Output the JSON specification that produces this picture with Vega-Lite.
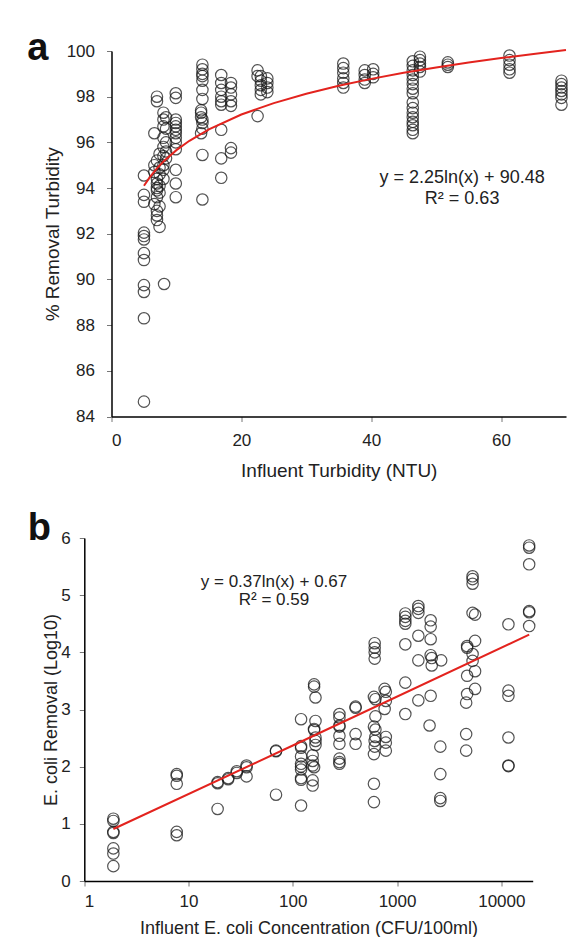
{
  "$schema": "https://vega.github.io/schema/vega-lite/v6.json",
  "padding": {"left": 26.5, "top": 30, "right": 0, "bottom": 0},
  "autosize": {"type": "pad"},
  "config": {
    "font": "Liberation Sans",
    "view": {"stroke": null},
    "axis": {
      "grid": false,
      "domainColor": "#000",
      "domainWidth": 1.5,
      "tickColor": "#777",
      "tickSize": 5,
      "labelFont": "Liberation Sans",
      "labelFontSize": 17,
      "labelColor": "#222",
      "titleFont": "Liberation Sans",
      "titleFontWeight": "normal",
      "titleColor": "#222"
    },
    "title": {"font": "Liberation Sans", "fontSize": 38, "fontWeight": "bold", "color": "#111"}
  },
  "concat": [
    {
      "width": 454.5,
      "height": 365.5,
      "title": {"text": "a", "orient": "top", "anchor": "start", "frame": "bounds", "offset": -39, "baseline": "alphabetic", "dx": -16, "dy": 17},
      "layer": [
        {
          "data": {"values": [
            {"x": 5.0, "y": 94.55}, {"x": 5.0, "y": 93.7}, {"x": 5.0, "y": 93.4}, {"x": 5.0, "y": 92.05}, {"x": 5.0, "y": 91.9}, {"x": 5.0, "y": 91.75}, {"x": 5.0, "y": 91.15}, {"x": 5.0, "y": 90.85}, {"x": 5.0, "y": 89.75}, {"x": 5.0, "y": 89.45}, {"x": 5.0, "y": 88.3}, {"x": 5.0, "y": 84.65},
            {"x": 6.6, "y": 96.4}, {"x": 6.6, "y": 95.0}, {"x": 6.6, "y": 94.7}, {"x": 6.6, "y": 93.3},
            {"x": 7.0, "y": 98.0}, {"x": 7.0, "y": 97.8}, {"x": 7.0, "y": 95.2}, {"x": 7.0, "y": 94.4}, {"x": 7.0, "y": 94.2}, {"x": 7.0, "y": 94.0}, {"x": 7.0, "y": 93.9}, {"x": 7.0, "y": 93.6}, {"x": 7.0, "y": 93.0}, {"x": 7.0, "y": 92.8}, {"x": 7.0, "y": 92.6},
            {"x": 7.4, "y": 95.5}, {"x": 7.4, "y": 94.9}, {"x": 7.4, "y": 94.6}, {"x": 7.4, "y": 94.1}, {"x": 7.4, "y": 93.8}, {"x": 7.4, "y": 93.2}, {"x": 7.4, "y": 92.3},
            {"x": 8.0, "y": 97.3}, {"x": 8.0, "y": 97.0}, {"x": 8.0, "y": 96.7}, {"x": 8.0, "y": 96.2}, {"x": 8.0, "y": 95.8}, {"x": 8.0, "y": 95.4}, {"x": 8.0, "y": 95.0}, {"x": 8.0, "y": 94.8}, {"x": 8.0, "y": 94.4}, {"x": 8.1, "y": 89.8},
            {"x": 8.4, "y": 97.1}, {"x": 8.4, "y": 96.6}, {"x": 8.4, "y": 96.0}, {"x": 8.4, "y": 95.6}, {"x": 8.4, "y": 95.3},
            {"x": 9.9, "y": 98.15}, {"x": 9.9, "y": 97.95}, {"x": 9.9, "y": 97.0}, {"x": 9.9, "y": 96.85}, {"x": 9.9, "y": 96.7}, {"x": 9.9, "y": 96.55}, {"x": 9.9, "y": 96.4}, {"x": 9.9, "y": 96.2}, {"x": 9.9, "y": 96.0}, {"x": 9.9, "y": 95.7}, {"x": 9.9, "y": 94.8}, {"x": 9.9, "y": 94.2}, {"x": 9.9, "y": 93.6},
            {"x": 14.0, "y": 99.4}, {"x": 14.0, "y": 99.2}, {"x": 14.0, "y": 99.0}, {"x": 14.0, "y": 98.9}, {"x": 14.0, "y": 98.7}, {"x": 14.0, "y": 98.3}, {"x": 14.0, "y": 97.9}, {"x": 13.8, "y": 97.4}, {"x": 13.8, "y": 97.3}, {"x": 13.8, "y": 97.1}, {"x": 14.0, "y": 97.0}, {"x": 14.0, "y": 96.85}, {"x": 14.0, "y": 96.6}, {"x": 13.8, "y": 96.4}, {"x": 14.0, "y": 95.45}, {"x": 14.0, "y": 93.5},
            {"x": 16.9, "y": 98.95}, {"x": 16.9, "y": 98.6}, {"x": 16.9, "y": 98.3}, {"x": 16.9, "y": 98.0}, {"x": 16.9, "y": 97.8}, {"x": 16.9, "y": 97.65}, {"x": 16.9, "y": 96.55}, {"x": 16.9, "y": 95.3}, {"x": 16.9, "y": 94.45},
            {"x": 18.4, "y": 98.6}, {"x": 18.4, "y": 98.4}, {"x": 18.4, "y": 98.1}, {"x": 18.4, "y": 97.8}, {"x": 18.4, "y": 97.6}, {"x": 18.4, "y": 95.75}, {"x": 18.4, "y": 95.55},
            {"x": 22.5, "y": 99.15}, {"x": 22.5, "y": 98.9}, {"x": 22.5, "y": 97.15},
            {"x": 23.0, "y": 98.9}, {"x": 23.0, "y": 98.7}, {"x": 23.0, "y": 98.5}, {"x": 23.0, "y": 98.3}, {"x": 23.0, "y": 98.1},
            {"x": 24.0, "y": 98.8}, {"x": 24.0, "y": 98.6}, {"x": 24.0, "y": 98.4}, {"x": 24.0, "y": 98.2},
            {"x": 35.7, "y": 99.45}, {"x": 35.7, "y": 99.25}, {"x": 35.7, "y": 99.05}, {"x": 35.7, "y": 98.8}, {"x": 35.7, "y": 98.6}, {"x": 35.7, "y": 98.4},
            {"x": 39.0, "y": 99.15}, {"x": 39.0, "y": 98.95}, {"x": 39.0, "y": 98.75}, {"x": 39.0, "y": 98.6},
            {"x": 40.3, "y": 99.2}, {"x": 40.3, "y": 99.0}, {"x": 40.3, "y": 98.85},
            {"x": 46.4, "y": 99.55}, {"x": 46.4, "y": 99.35}, {"x": 46.4, "y": 99.15}, {"x": 46.4, "y": 98.95}, {"x": 46.4, "y": 98.75}, {"x": 46.4, "y": 98.55}, {"x": 46.4, "y": 98.35}, {"x": 46.4, "y": 98.15}, {"x": 46.4, "y": 97.75}, {"x": 46.4, "y": 97.5}, {"x": 46.4, "y": 97.3}, {"x": 46.4, "y": 97.1}, {"x": 46.4, "y": 96.9}, {"x": 46.4, "y": 96.75}, {"x": 46.4, "y": 96.55}, {"x": 46.4, "y": 96.4},
            {"x": 47.5, "y": 99.75}, {"x": 47.5, "y": 99.6}, {"x": 47.5, "y": 99.45}, {"x": 47.5, "y": 99.3}, {"x": 47.5, "y": 99.1},
            {"x": 51.8, "y": 99.5}, {"x": 51.8, "y": 99.4}, {"x": 51.8, "y": 99.3},
            {"x": 61.3, "y": 99.8}, {"x": 61.3, "y": 99.6}, {"x": 61.3, "y": 99.4}, {"x": 61.3, "y": 99.2}, {"x": 61.3, "y": 99.05},
            {"x": 69.3, "y": 98.7}, {"x": 69.3, "y": 98.55}, {"x": 69.3, "y": 98.4}, {"x": 69.3, "y": 98.25}, {"x": 69.3, "y": 98.1}, {"x": 69.3, "y": 97.95}, {"x": 69.3, "y": 97.65}
          ]},
          "mark": {"type": "point", "filled": false, "stroke": "#1a1a1a", "strokeWidth": 1.2, "opacity": 0.75, "size": 130},
          "encoding": {
            "x": {"field": "x", "type": "quantitative", "scale": {"domain": [0, 70], "nice": false, "zero": false},
                  "axis": {"values": [0, 20, 40, 60], "labelPadding": 11, "titlePadding": 13, "titleFontSize": 19, "title": "Influent Turbidity (NTU)"}},
            "y": {"field": "y", "type": "quantitative", "scale": {"domain": [84, 100], "nice": false, "zero": false},
                  "axis": {"values": [84, 86, 88, 90, 92, 94, 96, 98, 100], "labelPadding": 12, "titlePadding": 4, "titleFontSize": 19, "title": "% Removal Turbidity"}}
          }
        },
        {
          "data": {"values": [
            {"x": 5, "y": 94.10}, {"x": 6, "y": 94.51}, {"x": 7, "y": 94.86}, {"x": 8, "y": 95.16}, {"x": 10, "y": 95.66}, {"x": 12, "y": 96.07}, {"x": 15, "y": 96.57}, {"x": 20, "y": 97.22}, {"x": 25, "y": 97.72}, {"x": 30, "y": 98.13}, {"x": 35, "y": 98.48}, {"x": 40, "y": 98.78}, {"x": 45, "y": 99.05}, {"x": 50, "y": 99.28}, {"x": 55, "y": 99.50}, {"x": 60, "y": 99.69}, {"x": 65, "y": 99.87}, {"x": 70, "y": 100.04}
          ]},
          "mark": {"type": "line", "color": "#e3231e", "strokeWidth": 2, "clip": false},
          "encoding": {
            "x": {"field": "x", "type": "quantitative"},
            "y": {"field": "y", "type": "quantitative"}
          }
        },
        {
          "data": {"values": [{"x": 54.0, "y": 94.42, "label": ["y = 2.25ln(x) + 90.48", "R² = 0.63"]}]},
          "mark": {"type": "text", "fontSize": 18, "lineHeight": 20.5, "align": "center", "baseline": "middle", "color": "#222"},
          "encoding": {
            "x": {"field": "x", "type": "quantitative"},
            "y": {"field": "y", "type": "quantitative"},
            "text": {"field": "label"}
          }
        }
      ]
    },
    {
      "width": 421.2,
      "height": 343,
      "title": {"text": "b", "orient": "top", "anchor": "start", "frame": "bounds", "offset": -37, "baseline": "alphabetic", "dx": -15, "dy": 12},
      "layer": [
        {
          "data": {"values": [
            {"x": 1.9, "y": 1.09}, {"x": 1.9, "y": 1.05}, {"x": 1.9, "y": 0.86}, {"x": 1.9, "y": 0.84}, {"x": 1.9, "y": 0.57}, {"x": 1.9, "y": 0.48}, {"x": 1.9, "y": 0.26},
            {"x": 7.7, "y": 1.87}, {"x": 7.7, "y": 1.84}, {"x": 7.7, "y": 1.70}, {"x": 7.7, "y": 0.86}, {"x": 7.7, "y": 0.80},
            {"x": 19, "y": 1.73}, {"x": 19, "y": 1.71}, {"x": 19, "y": 1.26},
            {"x": 24, "y": 1.80}, {"x": 24, "y": 1.78},
            {"x": 29, "y": 1.92}, {"x": 29, "y": 1.89},
            {"x": 36, "y": 2.02}, {"x": 36, "y": 1.99}, {"x": 36, "y": 1.83},
            {"x": 69, "y": 2.28}, {"x": 69, "y": 2.27}, {"x": 69, "y": 1.51},
            {"x": 120, "y": 2.83}, {"x": 120, "y": 2.36}, {"x": 120, "y": 2.33}, {"x": 120, "y": 2.18}, {"x": 120, "y": 2.05}, {"x": 120, "y": 2.0}, {"x": 120, "y": 1.95}, {"x": 120, "y": 1.80}, {"x": 120, "y": 1.77}, {"x": 120, "y": 1.32},
            {"x": 160, "y": 3.44}, {"x": 160, "y": 3.40}, {"x": 165, "y": 3.21}, {"x": 165, "y": 2.80}, {"x": 160, "y": 2.66}, {"x": 160, "y": 2.64}, {"x": 165, "y": 2.51}, {"x": 165, "y": 2.45}, {"x": 165, "y": 2.38}, {"x": 155, "y": 2.2}, {"x": 155, "y": 2.10}, {"x": 155, "y": 2.02}, {"x": 160, "y": 1.99}, {"x": 155, "y": 1.76}, {"x": 155, "y": 1.67},
            {"x": 280, "y": 2.92}, {"x": 280, "y": 2.86}, {"x": 280, "y": 2.72}, {"x": 280, "y": 2.70}, {"x": 280, "y": 2.54}, {"x": 280, "y": 2.40}, {"x": 280, "y": 2.14}, {"x": 280, "y": 2.08}, {"x": 280, "y": 2.05},
            {"x": 400, "y": 3.05}, {"x": 400, "y": 3.03}, {"x": 400, "y": 2.57}, {"x": 400, "y": 2.40},
            {"x": 610, "y": 4.16}, {"x": 610, "y": 4.08}, {"x": 610, "y": 4.00}, {"x": 610, "y": 3.89}, {"x": 600, "y": 3.22}, {"x": 620, "y": 3.18}, {"x": 620, "y": 2.88}, {"x": 600, "y": 2.70}, {"x": 620, "y": 2.65}, {"x": 620, "y": 2.52}, {"x": 610, "y": 2.45}, {"x": 610, "y": 2.35}, {"x": 600, "y": 2.22}, {"x": 600, "y": 1.70}, {"x": 600, "y": 1.38},
            {"x": 760, "y": 3.36}, {"x": 780, "y": 3.31}, {"x": 780, "y": 3.15}, {"x": 760, "y": 3.01}, {"x": 780, "y": 2.52}, {"x": 780, "y": 2.42}, {"x": 780, "y": 2.28},
            {"x": 1200, "y": 4.68}, {"x": 1200, "y": 4.62}, {"x": 1200, "y": 4.55}, {"x": 1200, "y": 4.50}, {"x": 1200, "y": 4.14}, {"x": 1200, "y": 3.47}, {"x": 1200, "y": 2.92},
            {"x": 1600, "y": 4.81}, {"x": 1600, "y": 4.76}, {"x": 1600, "y": 4.69}, {"x": 1600, "y": 4.29}, {"x": 1600, "y": 3.86}, {"x": 1600, "y": 3.16},
            {"x": 2100, "y": 4.56}, {"x": 2100, "y": 4.45}, {"x": 2100, "y": 4.23}, {"x": 2100, "y": 3.95}, {"x": 2150, "y": 3.90}, {"x": 2150, "y": 3.77}, {"x": 2100, "y": 3.24}, {"x": 2050, "y": 2.72},
            {"x": 2650, "y": 3.86}, {"x": 2600, "y": 2.35}, {"x": 2600, "y": 1.87}, {"x": 2600, "y": 1.45}, {"x": 2600, "y": 1.40},
            {"x": 4700, "y": 4.11}, {"x": 4700, "y": 4.08}, {"x": 4700, "y": 3.59}, {"x": 4700, "y": 3.27}, {"x": 4600, "y": 3.12}, {"x": 4600, "y": 2.57}, {"x": 4600, "y": 2.28},
            {"x": 5300, "y": 5.33}, {"x": 5300, "y": 5.28}, {"x": 5300, "y": 5.20}, {"x": 5300, "y": 4.69}, {"x": 5600, "y": 4.66}, {"x": 5600, "y": 4.20}, {"x": 5300, "y": 3.97}, {"x": 5300, "y": 3.85}, {"x": 5600, "y": 3.67}, {"x": 5600, "y": 3.36},
            {"x": 11700, "y": 4.49}, {"x": 11700, "y": 3.33}, {"x": 11700, "y": 3.24}, {"x": 11700, "y": 2.51}, {"x": 11700, "y": 2.02}, {"x": 11700, "y": 2.01},
            {"x": 18500, "y": 5.87}, {"x": 18500, "y": 5.83}, {"x": 18500, "y": 5.54}, {"x": 18500, "y": 4.72}, {"x": 18500, "y": 4.70}, {"x": 18500, "y": 4.46}
          ]},
          "mark": {"type": "point", "filled": false, "stroke": "#1a1a1a", "strokeWidth": 1.2, "opacity": 0.75, "size": 130, "clip": false},
          "encoding": {
            "x": {"field": "x", "type": "quantitative", "scale": {"type": "log", "domain": [1, 20000], "nice": false, "range": [-27.2, 421.2]},
                  "axis": {"values": [1, 10, 100, 1000, 10000], "format": "d", "labelPadding": 7, "titlePadding": 10, "titleFontSize": 18, "title": "Influent E. coli Concentration (CFU/100ml)"}},
            "y": {"field": "y", "type": "quantitative", "scale": {"domain": [0, 6], "nice": false},
                  "axis": {"values": [0, 1, 2, 3, 4, 5, 6], "format": "d", "offset": 27.2, "labelPadding": 9, "titlePadding": 0, "titleFontSize": 18, "title": "E. coli Removal (Log10)"}}
          }
        },
        {
          "data": {"values": [{"x": 1.9, "y": 0.91}, {"x": 100, "y": 2.37}, {"x": 18500, "y": 4.31}]},
          "mark": {"type": "line", "color": "#e3231e", "strokeWidth": 2, "clip": false},
          "encoding": {
            "x": {"field": "x", "type": "quantitative"},
            "y": {"field": "y", "type": "quantitative"}
          }
        },
        {
          "data": {"values": [{"x": 66, "y": 5.23, "label": ["y = 0.37ln(x) + 0.67", "R² = 0.59"]}]},
          "mark": {"type": "text", "fontSize": 17, "lineHeight": 18, "align": "center", "baseline": "middle", "color": "#222"},
          "encoding": {
            "x": {"field": "x", "type": "quantitative"},
            "y": {"field": "y", "type": "quantitative"},
            "text": {"field": "label"}
          }
        }
      ]
    }
  ],
  "columns": 1,
  "align": "none",
  "spacing": 29
}
